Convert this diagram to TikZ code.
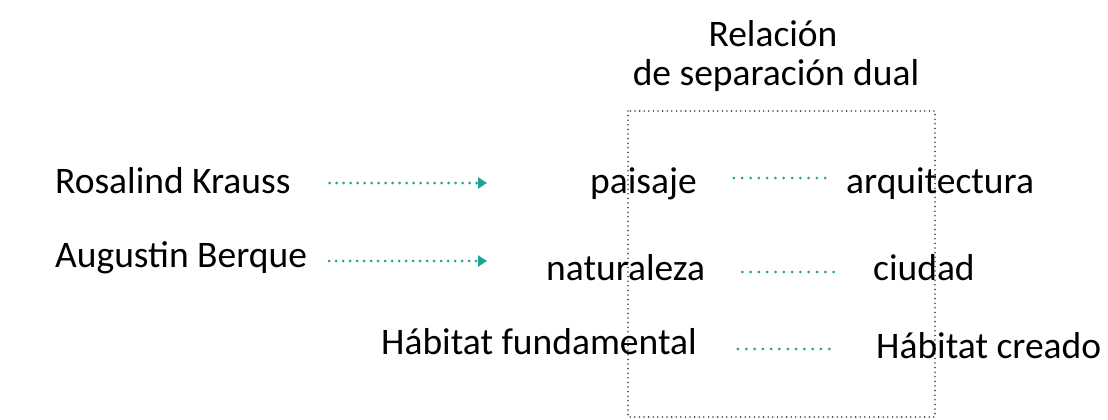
\documentclass[tikz,border=0pt]{standalone}
\usepackage{fontspec}
\setmainfont{Carlito}
\usetikzlibrary{arrows.meta}
\definecolor{verde}{RGB}{31,163,150}
\definecolor{gris}{RGB}{70,70,70}

\begin{document}
\begin{tikzpicture}[x=1pt,y=-1pt,
    lbl/.style={inner sep=0pt,font=\fontsize{37.5}{45}\selectfont},
    link/.style={draw=verde,line width=3pt,line cap=round,dash pattern=on 0pt off 8.3pt},
    flecha/.style={draw=verde,line width=3pt,line cap=round,dash pattern=on 0pt off 7pt,
      -{Triangle[length=9pt,width=11pt,fill=verde]}}]
  \useasboundingbox (0,0) rectangle (1108,420);
  % caja de la relacion dual
  \draw[gris,line width=1.8pt,line cap=round,dash pattern=on 0pt off 4.6pt] (628,111) rectangle (935,417);
  \node[lbl,anchor=base] (titulo) at (773,47) {Relación};
  \node[lbl,anchor=base] (titulob) at (776,85) {de separación dual};
  % autores
  \node[lbl,anchor=base west] (krauss) at (55,193) {Rosalind Krauss};
  \node[lbl,anchor=base west] (berque) at (55,267) {Augustin Berque};
  \coordinate (fin1) at (487,183);
  \coordinate (fin2) at (487,261);
  \draw[flecha] ([xshift=39pt,yshift=10pt]krauss.base east) -- (fin1);
  \draw[flecha] ([xshift=22pt,yshift=6pt]berque.base east) -- (fin2);
  % pares
  \node[lbl,anchor=base west] (paisaje) at (590,193) {paisaje};
  \node[lbl,anchor=base west] (arq) at (846,193) {arquitectura};
  \node[lbl,anchor=base west] (natur) at (546,280) {naturaleza};
  \node[lbl,anchor=base west] (ciudad) at (873,280) {ciudad};
  \node[lbl,anchor=base west] (habfund) at (381,354) {Hábitat fundamental};
  \node[lbl,anchor=base west] (habcre) at (876,358) {Hábitat creado};
  \draw[link] ([xshift=37pt,yshift=15pt]paisaje.base east) -- ([xshift=-16pt,yshift=15pt]arq.base west);
  \draw[link] ([xshift=37pt,yshift=8pt]natur.base east) -- ([xshift=-33pt,yshift=8pt]ciudad.base west);
  \draw[link] ([xshift=41pt,yshift=5pt]habfund.base east) -- ([xshift=-39pt,yshift=9pt]habcre.base west);
\end{tikzpicture}
\end{document}
